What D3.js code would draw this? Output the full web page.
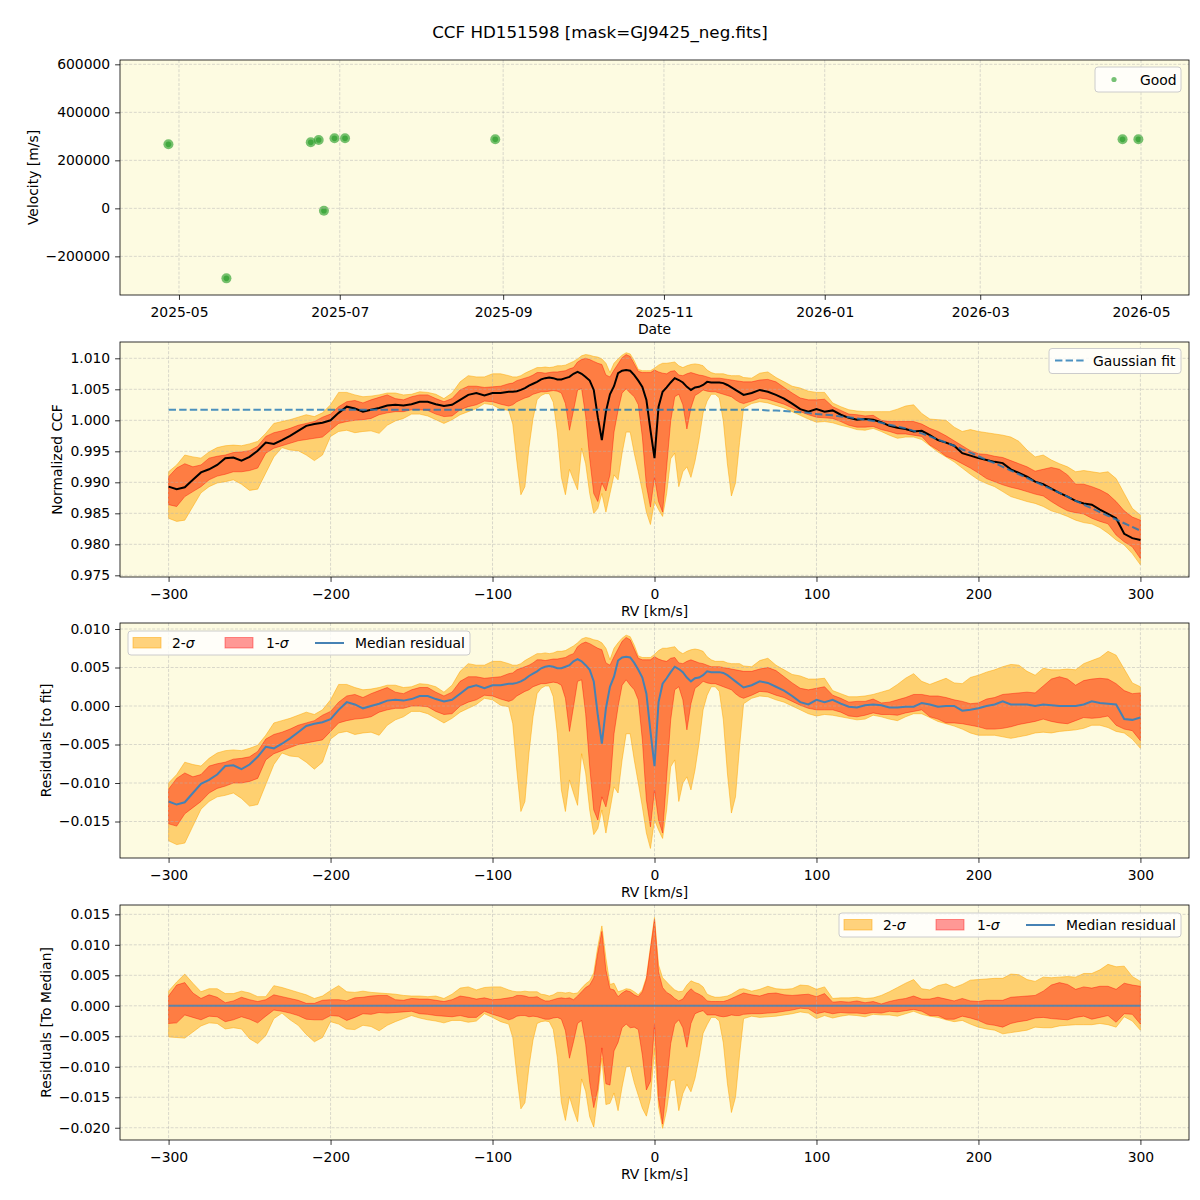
<!DOCTYPE html>
<html>
<head>
<meta charset="utf-8">
<script src="https://cdn.jsdelivr.net/npm/d3@7"></script>
<style>
  body { margin: 0; background: #fff; }
  svg { font-family: "DejaVu Sans", sans-serif; }
</style>
</head>
<body>
<div id="chart"></div>
<script>
// ---- data ----
var chartTitle = 'CCF HD151598 [mask=GJ9425_neg.fits]';

var obsDates = ['2025-04-27', '2025-05-19', '2025-06-20', '2025-06-23', '2025-06-25',
                '2025-06-29', '2025-07-03', '2025-08-29', '2026-04-24', '2026-04-30'];
var obsVelocity = [266700, -291700, 275000, 284600, -10000, 291700, 291700, 287500, 287500, 287500];

var dateTicks = ['2025-05-01', '2025-07-01', '2025-09-01', '2025-11-01', '2026-01-01', '2026-03-01', '2026-05-01'];
var velocityTicks = [-200000, 0, 200000, 400000, 600000];
var rvTicks = [-300, -200, -100, 0, 100, 200, 300];
var ccfTicks = [0.975, 0.980, 0.985, 0.990, 0.995, 1.000, 1.005, 1.010];
var fitResTicks = [-0.015, -0.010, -0.005, 0.000, 0.005, 0.010];
var medResTicks = [-0.020, -0.015, -0.010, -0.005, 0.000, 0.005, 0.010, 0.015];

var rvGrid = [
  -300, -295, -290, -285, -280, -275, -270, -265, -260, -255,
  -250, -245, -240, -235, -230, -225, -220, -215, -210, -205,
  -200, -195, -190, -185, -180, -175, -170, -165, -160, -155,
  -150, -145, -140, -135, -130, -125, -120, -115, -110, -105,
  -100, -95, -90,
  -87.5, -85, -82.5, -80, -77.5, -75, -72.5, -70, -67.5, -65,
  -62.5, -60, -57.5, -55, -52.5, -50, -47.5, -45, -42.5, -40,
  -37.5, -35, -32.5, -30, -27.5, -25, -22.5, -20, -17.5, -15,
  -12.5, -10, -7.5, -5, -2.5, 0, 2.5, 5, 7.5, 10,
  12.5, 15, 17.5, 20, 22.5, 25, 27.5, 30, 32.5, 35,
  37.5, 40, 42.5, 45, 47.5, 50, 52.5, 55,
  60, 65, 70, 75, 80, 85, 90, 95, 100, 105,
  110, 115, 120, 125, 130, 135, 140, 145, 150, 155,
  160, 165, 170, 175, 180, 185, 190, 195, 200, 205,
  210, 215, 220, 225, 230, 235, 240, 245, 250, 255,
  260, 265, 270, 275, 280, 285, 290, 295, 300
];

var ccfMedian = [
  0.9893, 0.9889, 0.9892, 0.9904, 0.9916, 0.9921, 0.9928, 0.9939, 0.9940, 0.9935,
  0.9941, 0.9951, 0.9964, 0.9962, 0.9968, 0.9975, 0.9983, 0.9991, 0.9994, 0.9996,
  1.0000, 1.0012, 1.0022, 1.0019, 1.0014, 1.0017, 1.0020, 1.0024, 1.0025, 1.0024,
  1.0026, 1.0030, 1.0030, 1.0026, 1.0023, 1.0025, 1.0033, 1.0041, 1.0044, 1.0040,
  1.0044, 1.0044, 1.0046,
  1.0046, 1.0047, 1.0049, 1.0052, 1.0056, 1.0059, 1.0062, 1.0066, 1.0068, 1.0069,
  1.0068, 1.0066, 1.0066, 1.0068, 1.0070, 1.0075, 1.0078, 1.0075, 1.0070, 1.0064,
  1.0049, 1.0005, 0.9968, 1.0014, 1.0042, 1.0055, 1.0076, 1.0080, 1.0081, 1.0080,
  1.0073, 1.0064, 1.0054, 1.0033, 0.9984, 0.9939, 1.0022, 1.0046, 1.0053, 1.0061,
  1.0068, 1.0065, 1.0061, 1.0054, 1.0049, 1.0053, 1.0054, 1.0057, 1.0062, 1.0061,
  1.0061, 1.0061, 1.0060, 1.0057, 1.0053, 1.0049, 1.0045, 1.0041,
  1.0044, 1.0049, 1.0046, 1.0041, 1.0035, 1.0027, 1.0018, 1.0014, 1.0018, 1.0014,
  1.0016, 1.0009, 1.0004, 1.0001, 1.0002, 1.0001, 0.9997, 0.9991, 0.9988, 0.9986,
  0.9982, 0.9983, 0.9976, 0.9968, 0.9964, 0.9959, 0.9947, 0.9943, 0.9939, 0.9936,
  0.9933, 0.9931, 0.9921, 0.9915, 0.9909, 0.9901, 0.9897, 0.9890, 0.9883, 0.9877,
  0.9870, 0.9866, 0.9864, 0.9856, 0.9849, 0.9842, 0.9817, 0.9810, 0.9807
];

var sig1Lo = [
  0.9864, 0.9861, 0.9877, 0.9885, 0.9893, 0.9904, 0.9910, 0.9913, 0.9917, 0.9917,
  0.9919, 0.9923, 0.9947, 0.9955, 0.9959, 0.9963, 0.9967, 0.9969, 0.9971, 0.9973,
  0.9984, 0.9995, 0.9998, 1.0000, 1.0001, 1.0003, 1.0009, 1.0012, 1.0014, 1.0014,
  1.0017, 1.0017, 1.0016, 1.0010, 1.0006, 1.0007, 1.0017, 1.0022, 1.0025, 1.0031,
  1.0030, 1.0026, 1.0023,
  1.0025, 1.0030, 1.0033, 1.0036, 1.0038, 1.0042, 1.0044, 1.0046, 1.0046, 1.0047,
  1.0048, 1.0047, 1.0044, 1.0027, 0.9984, 1.0016, 1.0049, 1.0051, 1.0007, 0.9938,
  0.9882, 0.9869, 0.9899, 0.9886, 0.9912, 0.9981, 1.0016, 1.0044, 1.0051, 1.0044,
  1.0038, 1.0025, 0.9973, 0.9895, 0.9860, 0.9908, 0.9869, 0.9852, 0.9925, 0.9999,
  1.0038, 1.0042, 1.0025, 0.9986, 1.0020, 1.0040, 1.0044, 1.0049, 1.0047, 1.0046,
  1.0046, 1.0044, 1.0042, 1.0040, 1.0038, 1.0033, 1.0029, 1.0027,
  1.0031, 1.0036, 1.0034, 1.0030, 1.0026, 1.0020, 1.0014, 1.0009, 1.0005, 1.0004,
  1.0003, 0.9998, 0.9992, 0.9989, 0.9989, 0.9990, 0.9985, 0.9982, 0.9978, 0.9978,
  0.9976, 0.9974, 0.9960, 0.9952, 0.9942, 0.9937, 0.9930, 0.9923, 0.9915, 0.9906,
  0.9901, 0.9896, 0.9892, 0.9889, 0.9885, 0.9881, 0.9878, 0.9869, 0.9861, 0.9854,
  0.9851, 0.9849, 0.9842, 0.9837, 0.9833, 0.9815, 0.9804, 0.9796, 0.9777
];

var sig1Hi = [
  0.9909, 0.9923, 0.9930, 0.9925, 0.9928, 0.9939, 0.9942, 0.9944, 0.9948, 0.9949,
  0.9951, 0.9958, 0.9974, 0.9980, 0.9983, 0.9987, 0.9992, 0.9995, 0.9998, 1.0005,
  1.0010, 1.0022, 1.0030, 1.0032, 1.0028, 1.0033, 1.0037, 1.0041, 1.0035, 1.0033,
  1.0038, 1.0041, 1.0041, 1.0035, 1.0030, 1.0035, 1.0049, 1.0055, 1.0055, 1.0053,
  1.0054, 1.0055, 1.0059,
  1.0060, 1.0064, 1.0066, 1.0068, 1.0070, 1.0073, 1.0077, 1.0077, 1.0076, 1.0077,
  1.0078, 1.0078, 1.0079, 1.0080, 1.0083, 1.0085, 1.0094, 1.0098, 1.0100, 1.0098,
  1.0095, 1.0092, 1.0090, 1.0073, 1.0070, 1.0081, 1.0091, 1.0101, 1.0106, 1.0103,
  1.0091, 1.0079, 1.0077, 1.0077, 1.0077, 1.0081, 1.0078, 1.0076, 1.0075, 1.0079,
  1.0080, 1.0073, 1.0072, 1.0075, 1.0077, 1.0075, 1.0073, 1.0072, 1.0070, 1.0068,
  1.0068, 1.0068, 1.0067, 1.0066, 1.0065, 1.0064, 1.0063, 1.0062,
  1.0062, 1.0065, 1.0066, 1.0062, 1.0053, 1.0044, 1.0036, 1.0033, 1.0033, 1.0034,
  1.0022, 1.0016, 1.0010, 1.0009, 1.0007, 1.0008, 1.0000, 0.9998, 0.9998, 0.9998,
  0.9998, 0.9994, 0.9987, 0.9982, 0.9975, 0.9967, 0.9959, 0.9951, 0.9946, 0.9945,
  0.9942, 0.9940, 0.9935, 0.9930, 0.9925, 0.9918, 0.9921, 0.9924, 0.9921, 0.9912,
  0.9897, 0.9897, 0.9893, 0.9888, 0.9881, 0.9869, 0.9854, 0.9844, 0.9839
];

var sig2Lo = [
  0.9842, 0.9837, 0.9839, 0.9861, 0.9883, 0.9893, 0.9899, 0.9901, 0.9904, 0.9897,
  0.9887, 0.9889, 0.9915, 0.9941, 0.9956, 0.9952, 0.9951, 0.9944, 0.9935, 0.9944,
  0.9974, 0.9982, 0.9984, 0.9980, 0.9982, 0.9983, 0.9979, 0.9992, 0.9999, 1.0003,
  1.0010, 1.0010, 1.0007, 1.0001, 0.9995, 1.0001, 1.0009, 1.0014, 1.0019, 1.0027,
  1.0025, 1.0018, 1.0016,
  0.9994, 0.9934, 0.9880, 0.9893, 0.9956, 1.0003, 1.0033, 1.0040, 1.0043, 1.0043,
  1.0029, 0.9981, 0.9908, 0.9880, 0.9921, 0.9904, 0.9888, 0.9955, 0.9930, 0.9882,
  0.9850, 0.9858, 0.9882, 0.9852, 0.9882, 0.9912, 0.9904, 0.9947, 0.9981, 0.9981,
  0.9947, 0.9917, 0.9886, 0.9852, 0.9832, 0.9869, 0.9856, 0.9845, 0.9882, 0.9938,
  0.9947, 0.9893, 0.9917, 0.9925, 0.9908, 0.9934, 0.9969, 1.0012, 1.0031, 1.0042,
  1.0042, 1.0036, 0.9999, 0.9930, 0.9878, 0.9899, 0.9964, 1.0020,
  1.0027, 1.0030, 1.0028, 1.0024, 1.0020, 1.0014, 1.0008, 1.0002, 0.9997, 0.9998,
  0.9996, 0.9992, 0.9989, 0.9985, 0.9984, 0.9987, 0.9982, 0.9976, 0.9971, 0.9973,
  0.9973, 0.9969, 0.9959, 0.9949, 0.9941, 0.9933, 0.9923, 0.9913, 0.9904, 0.9898,
  0.9893, 0.9885, 0.9877, 0.9873, 0.9869, 0.9866, 0.9861, 0.9854, 0.9850, 0.9845,
  0.9839, 0.9835, 0.9833, 0.9827, 0.9818, 0.9807, 0.9799, 0.9785, 0.9767
];

var sig2Hi = [
  0.9917, 0.9928, 0.9944, 0.9941, 0.9939, 0.9949, 0.9956, 0.9959, 0.9960, 0.9959,
  0.9962, 0.9966, 0.9979, 0.9995, 0.9998, 1.0001, 1.0005, 1.0009, 1.0006, 1.0012,
  1.0025, 1.0045, 1.0045, 1.0041, 1.0038, 1.0039, 1.0041, 1.0044, 1.0044, 1.0041,
  1.0042, 1.0046, 1.0045, 1.0042, 1.0035, 1.0044, 1.0062, 1.0072, 1.0070, 1.0070,
  1.0075, 1.0075, 1.0072,
  1.0070, 1.0070, 1.0072, 1.0076, 1.0079, 1.0082, 1.0085, 1.0085, 1.0086, 1.0085,
  1.0086, 1.0088, 1.0088, 1.0089, 1.0092, 1.0095, 1.0099, 1.0104, 1.0106, 1.0105,
  1.0103, 1.0102, 1.0099, 1.0092, 1.0077, 1.0092, 1.0099, 1.0105, 1.0109, 1.0107,
  1.0096, 1.0082, 1.0080, 1.0080, 1.0080, 1.0084, 1.0089, 1.0092, 1.0092, 1.0093,
  1.0094, 1.0088, 1.0085, 1.0088, 1.0090, 1.0091, 1.0090, 1.0088, 1.0081, 1.0077,
  1.0075, 1.0075, 1.0075, 1.0073, 1.0072, 1.0072, 1.0072, 1.0069,
  1.0068, 1.0076, 1.0078, 1.0069, 1.0062, 1.0055, 1.0052, 1.0047, 1.0045, 1.0045,
  1.0028, 1.0022, 1.0017, 1.0015, 1.0014, 1.0014, 1.0014, 1.0014, 1.0018, 1.0023,
  1.0025, 1.0011, 1.0002, 1.0001, 1.0000, 0.9989, 0.9982, 0.9985, 0.9982, 0.9980,
  0.9978, 0.9976, 0.9973, 0.9966, 0.9952, 0.9941, 0.9944, 0.9936, 0.9930, 0.9925,
  0.9917, 0.9919, 0.9917, 0.9915, 0.9917, 0.9906, 0.9882, 0.9858, 0.9847
];

var gaussFit = [
  1.0017, 1.0017, 1.0017, 1.0017, 1.0017, 1.0017, 1.0017, 1.0017, 1.0017, 1.0017,
  1.0017, 1.0017, 1.0017, 1.0017, 1.0017, 1.0017, 1.0017, 1.0017, 1.0017, 1.0017,
  1.0017, 1.0017, 1.0017, 1.0017, 1.0017, 1.0017, 1.0017, 1.0017, 1.0017, 1.0017,
  1.0017, 1.0017, 1.0017, 1.0017, 1.0017, 1.0017, 1.0017, 1.0017, 1.0017, 1.0017,
  1.0017, 1.0017, 1.0017,
  1.0017, 1.0017, 1.0017, 1.0017, 1.0017, 1.0017, 1.0017, 1.0017, 1.0017, 1.0017,
  1.0017, 1.0017, 1.0017, 1.0017, 1.0017, 1.0017, 1.0017, 1.0017, 1.0017, 1.0017,
  1.0017, 1.0017, 1.0017, 1.0017, 1.0017, 1.0017, 1.0017, 1.0017, 1.0017, 1.0017,
  1.0017, 1.0017, 1.0017, 1.0017, 1.0017, 1.0017, 1.0017, 1.0017, 1.0017, 1.0017,
  1.0017, 1.0017, 1.0017, 1.0017, 1.0017, 1.0017, 1.0017, 1.0017, 1.0017, 1.0017,
  1.0017, 1.0017, 1.0017, 1.0017, 1.0017, 1.0017, 1.0017, 1.0017,
  1.0017, 1.0017, 1.0016, 1.0016, 1.0015, 1.0014, 1.0013, 1.0012, 1.0010, 1.0009,
  1.0008, 1.0006, 1.0005, 1.0003, 1.0001, 0.9999, 0.9996, 0.9993, 0.9990, 0.9987,
  0.9983, 0.9979, 0.9974, 0.9969, 0.9964, 0.9959, 0.9953, 0.9948, 0.9942, 0.9936,
  0.9931, 0.9925, 0.9919, 0.9913, 0.9907, 0.9901, 0.9895, 0.9889, 0.9883, 0.9877,
  0.9870, 0.9864, 0.9858, 0.9852, 0.9846, 0.9840, 0.9834, 0.9828, 0.9822
];

// ---- layout ----
var plotLeft = 120, plotWidth = 1069, plotHeight = 235,
    panelTops = [60, 342, 623, 905],
    bgColor = '#fdfbe1',
    sig2Color = '#ffa500',
    sig1Color = '#ff0000',
    medColor = '#4682b4',
    tickFont = '13.9px';

var svg = d3.select('#chart').append('svg')
    .attr('width', 1200)
    .attr('height', 1200);
svg.append('rect').attr('width', 1200).attr('height', 1200).attr('fill', '#fff');

svg.append('text')
    .attr('x', 600).attr('y', 38)
    .attr('text-anchor', 'middle')
    .style('font-size', '16.7px')
    .text(chartTitle);

function makePanel(i) {
    var g = svg.append('g').attr('transform', 'translate(' + plotLeft + ',' + panelTops[i] + ')');
    g.append('rect').attr('width', plotWidth).attr('height', plotHeight).attr('fill', bgColor);
    svg.append('clipPath').attr('id', 'clip' + i)
        .append('rect').attr('width', plotWidth).attr('height', plotHeight);
    var plot = g.append('g').attr('clip-path', 'url(#clip' + i + ')');
    return {g: g, plot: plot};
}

function drawGrid(plot, x, y, xt, yt) {
    var gg = plot.append('g')
        .attr('stroke', '#b0b0b0')
        .attr('stroke-opacity', 0.6)
        .attr('stroke-width', 0.8)
        .attr('stroke-dasharray', '3,1.6');
    gg.selectAll('line.gx').data(xt).enter().append('line')
        .attr('x1', function (d) { return x(d); })
        .attr('x2', function (d) { return x(d); })
        .attr('y1', 0).attr('y2', plotHeight);
    gg.selectAll('line.gy').data(yt).enter().append('line')
        .attr('y1', function (d) { return y(d); })
        .attr('y2', function (d) { return y(d); })
        .attr('x1', 0).attr('x2', plotWidth);
}

function drawAxes(g, x, y, xt, yt, xf, yf) {
    var ax = g.append('g')
        .attr('transform', 'translate(0,' + plotHeight + ')')
        .call(d3.axisBottom(x).tickValues(xt).tickFormat(xf).tickSize(4.9).tickPadding(7.5).tickSizeOuter(0));
    var ay = g.append('g')
        .call(d3.axisLeft(y).tickValues(yt).tickFormat(yf).tickSize(4.9).tickPadding(4.9).tickSizeOuter(0));
    [ax, ay].forEach(function (a) {
        a.attr('font-family', null).attr('font-size', null);
        a.select('.domain').remove();
        a.selectAll('line').attr('stroke', '#000').attr('stroke-width', 0.8);
        a.selectAll('text').style('font-size', tickFont).attr('fill', '#000');
    });
    g.append('rect')
        .attr('width', plotWidth).attr('height', plotHeight)
        .attr('fill', 'none').attr('stroke', '#000').attr('stroke-width', 0.8);
}

function drawBands(plot, x, y, rows) {
    var area2 = d3.area()
        .x(function (d) { return x(d.rv); })
        .y0(function (d) { return y(d.lo2); })
        .y1(function (d) { return y(d.hi2); });
    var area1 = d3.area()
        .x(function (d) { return x(d.rv); })
        .y0(function (d) { return y(d.lo1); })
        .y1(function (d) { return y(d.hi1); });
    plot.append('path').datum(rows).attr('d', area2)
        .attr('fill', sig2Color).attr('fill-opacity', 0.5)
        .attr('stroke', sig2Color).attr('stroke-opacity', 0.5).attr('stroke-width', 1);
    plot.append('path').datum(rows).attr('d', area1)
        .attr('fill', sig1Color).attr('fill-opacity', 0.4)
        .attr('stroke', sig1Color).attr('stroke-opacity', 0.4).attr('stroke-width', 1);
}

function drawLine(plot, x, y, rows, key, color, width, dash, opacity) {
    var line = d3.line()
        .x(function (d) { return x(d.rv); })
        .y(function (d) { return y(d[key]); });
    plot.append('path').datum(rows).attr('d', line)
        .attr('fill', 'none')
        .attr('stroke', color)
        .attr('stroke-width', width)
        .attr('stroke-dasharray', dash)
        .attr('stroke-opacity', opacity);
}

function yLabel(i, cx, txt) {
    var cy = panelTops[i] + plotHeight / 2;
    svg.append('text')
        .attr('transform', 'translate(' + cx + ',' + cy + ') rotate(-90)')
        .attr('text-anchor', 'middle')
        .attr('dy', '0.35em')
        .style('font-size', tickFont)
        .text(txt);
}

function xLabel(i, txt) {
    svg.append('text')
        .attr('x', plotLeft + plotWidth / 2)
        .attr('y', panelTops[i] + plotHeight + 39)
        .attr('text-anchor', 'middle')
        .style('font-size', tickFont)
        .text(txt);
}

function legendBox(x0, y0, w, h) {
    svg.append('rect')
        .attr('x', x0).attr('y', y0).attr('width', w).attr('height', h)
        .attr('rx', 3).attr('ry', 3)
        .attr('fill', '#fff').attr('fill-opacity', 0.8)
        .attr('stroke', '#cccccc').attr('stroke-width', 1);
}

function sigmaLegend(x0, y0) {
    // x0,y0: top-left of the legend frame (342 x 24)
    legendBox(x0, y0, 342, 24);
    var cy = y0 + 12;
    svg.append('rect').attr('x', x0 + 5).attr('y', cy - 5.5).attr('width', 28).attr('height', 10.5)
        .attr('fill', sig2Color).attr('fill-opacity', 0.5)
        .attr('stroke', sig2Color).attr('stroke-opacity', 0.5);
    var t1 = svg.append('text').attr('x', x0 + 44).attr('y', cy + 5).style('font-size', tickFont);
    t1.append('tspan').text('2-');
    t1.append('tspan').style('font-style', 'italic').text('σ');
    svg.append('rect').attr('x', x0 + 97).attr('y', cy - 5.5).attr('width', 28).attr('height', 10.5)
        .attr('fill', sig1Color).attr('fill-opacity', 0.4)
        .attr('stroke', sig1Color).attr('stroke-opacity', 0.4);
    var t2 = svg.append('text').attr('x', x0 + 138).attr('y', cy + 5).style('font-size', tickFont);
    t2.append('tspan').text('1-');
    t2.append('tspan').style('font-style', 'italic').text('σ');
    svg.append('line').attr('x1', x0 + 187).attr('x2', x0 + 216).attr('y1', cy).attr('y2', cy)
        .attr('stroke', medColor).attr('stroke-width', 2);
    svg.append('text').attr('x', x0 + 227).attr('y', cy + 5).style('font-size', tickFont)
        .text('Median residual');
}

// ---- panel 1: velocities ----
var parseDate = d3.utcParse('%Y-%m-%d');
var p1 = makePanel(0);
var xDate = d3.scaleUtc()
    .domain([Date.UTC(2025, 3, 8, 15), Date.UTC(2026, 4, 19, 5)])
    .range([0, plotWidth]);
var yVel = d3.scaleLinear().domain([-361000, 618000]).range([plotHeight, 0]);
var dateTickVals = dateTicks.map(parseDate);

var obs = obsDates.map(function (d, i) { return {date: parseDate(d), v: obsVelocity[i]}; });
p1.plot.selectAll('circle.outer').data(obs).enter().append('circle')
    .attr('cx', function (d) { return xDate(d.date); })
    .attr('cy', function (d) { return yVel(d.v); })
    .attr('r', 5)
    .attr('fill', '#2ca02c').attr('fill-opacity', 0.65);
p1.plot.selectAll('circle.inner').data(obs).enter().append('circle')
    .attr('cx', function (d) { return xDate(d.date); })
    .attr('cy', function (d) { return yVel(d.v); })
    .attr('r', 2.8)
    .attr('fill', '#2ca02c').attr('fill-opacity', 0.7);
drawGrid(p1.plot, xDate, yVel, dateTickVals, velocityTicks);
drawAxes(p1.g, xDate, yVel, dateTickVals, velocityTicks, d3.utcFormat('%Y-%m'), d3.format('d'));
yLabel(0, 33, 'Velocity [m/s]');
xLabel(0, 'Date');

legendBox(1095, 67, 86, 25);
svg.append('circle').attr('cx', 1114).attr('cy', 79.5).attr('r', 2.6)
    .attr('fill', '#2ca02c').attr('fill-opacity', 0.65);
svg.append('text').attr('x', 1140).attr('y', 84.5).style('font-size', tickFont).text('Good');

// ---- shared rv scale ----
var xRv = d3.scaleLinear().domain([-330, 330]).range([0, plotWidth]);

// ---- panel 2: normalized CCF ----
var ccfRows = rvGrid.map(function (rv, i) {
    return {rv: rv, med: ccfMedian[i], fit: gaussFit[i],
            lo1: sig1Lo[i], hi1: sig1Hi[i], lo2: sig2Lo[i], hi2: sig2Hi[i]};
});
var p2 = makePanel(1);
var yCcf = d3.scaleLinear().domain([0.97473, 1.01263]).range([plotHeight, 0]);
drawBands(p2.plot, xRv, yCcf, ccfRows);
drawGrid(p2.plot, xRv, yCcf, rvTicks, ccfTicks);
drawLine(p2.plot, xRv, yCcf, ccfRows, 'med', '#000', 2, null, 1);
drawLine(p2.plot, xRv, yCcf, ccfRows, 'fit', '#1f77b4', 2, '7.4,3.2', 0.8);
drawAxes(p2.g, xRv, yCcf, rvTicks, ccfTicks, d3.format('d'), d3.format('.3f'));
yLabel(1, 57, 'Normalized CCF');
xLabel(1, 'RV [km/s]');

legendBox(1049, 348.5, 132, 25);
svg.append('line').attr('x1', 1055).attr('x2', 1084).attr('y1', 360.5).attr('y2', 360.5)
    .attr('stroke', '#1f77b4').attr('stroke-opacity', 0.8).attr('stroke-width', 2)
    .attr('stroke-dasharray', '7.4,3.2');
svg.append('text').attr('x', 1093).attr('y', 365.5).style('font-size', tickFont).text('Gaussian fit');

// ---- panel 3: residuals to fit ----
var fitRows = ccfRows.map(function (d) {
    return {rv: d.rv, med: d.med - d.fit,
            lo1: d.lo1 - d.fit, hi1: d.hi1 - d.fit, lo2: d.lo2 - d.fit, hi2: d.hi2 - d.fit};
});
var p3 = makePanel(2);
var yFitRes = d3.scaleLinear().domain([-0.01974, 0.01078]).range([plotHeight, 0]);
drawBands(p3.plot, xRv, yFitRes, fitRows);
drawGrid(p3.plot, xRv, yFitRes, rvTicks, fitResTicks);
drawLine(p3.plot, xRv, yFitRes, fitRows, 'med', medColor, 2, null, 1);
drawAxes(p3.g, xRv, yFitRes, rvTicks, fitResTicks, d3.format('d'), d3.format('.3f'));
yLabel(2, 46, 'Residuals [to fit]');
xLabel(2, 'RV [km/s]');
sigmaLegend(128, 631);

// ---- panel 4: residuals to median ----
var medRows = ccfRows.map(function (d) {
    return {rv: d.rv, med: d.med - d.med,
            lo1: d.lo1 - d.med, hi1: d.hi1 - d.med, lo2: d.lo2 - d.med, hi2: d.hi2 - d.med};
});
var p4 = makePanel(3);
var yMedRes = d3.scaleLinear().domain([-0.02201, 0.01653]).range([plotHeight, 0]);
drawBands(p4.plot, xRv, yMedRes, medRows);
drawGrid(p4.plot, xRv, yMedRes, rvTicks, medResTicks);
drawLine(p4.plot, xRv, yMedRes, medRows, 'med', medColor, 2, null, 0.85);
drawAxes(p4.g, xRv, yMedRes, rvTicks, medResTicks, d3.format('d'), d3.format('.3f'));
yLabel(3, 46, 'Residuals [To Median]');
xLabel(3, 'RV [km/s]');
sigmaLegend(839, 913);
</script>
</body>
</html>
